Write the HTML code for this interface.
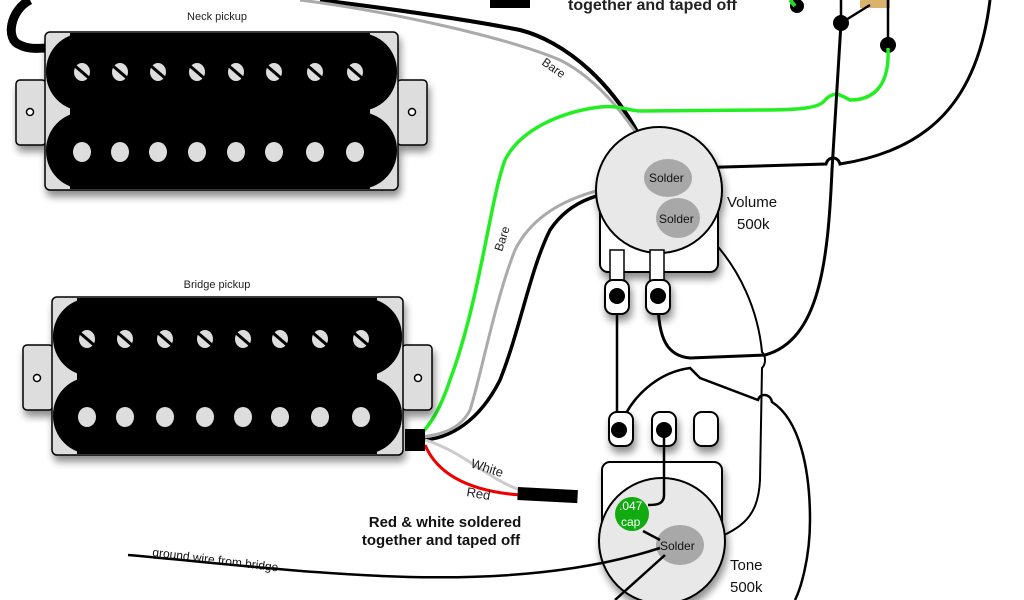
<!DOCTYPE html>
<html><head><meta charset="utf-8"><style>
html,body{margin:0;padding:0;background:#fff;}
svg{display:block;}
text{font-family:"Liberation Sans",sans-serif;}
</style></head><body>
<svg width="1024" height="600" viewBox="0 0 1024 600" xmlns="http://www.w3.org/2000/svg">
<defs>
<filter id="sh" x="-10%" y="-10%" width="130%" height="140%"><feGaussianBlur in="SourceAlpha" stdDeviation="4"/><feOffset dx="2" dy="6"/><feComponentTransfer><feFuncA type="linear" slope="0.45"/></feComponentTransfer><feMerge><feMergeNode/><feMergeNode in="SourceGraphic"/></feMerge></filter>
<g id="screw"><ellipse cx="0" cy="0" rx="8" ry="9" fill="#ddd"/><line x1="-7" y1="-6" x2="7" y2="6" stroke="#000" stroke-width="3"/></g>
<g id="pole"><ellipse cx="0" cy="0" rx="9" ry="10" fill="#ddd"/></g>
</defs>

<!-- top wires -->
<path d="M30,0 C10,10 5,40 20,45 C30,50 40,48 48,48" fill="none" stroke="#000" stroke-width="9"/>
<path d="M320,0 C400,10 470,20 520,30 C560,40 620,80 655,170" fill="none" stroke="#000" stroke-width="4"/>
<path d="M300,0 C380,10 500,35 560,60 C600,80 630,120 660,170" fill="none" stroke="#aaa" stroke-width="3"/>
<rect x="490" y="0" width="40" height="8" fill="#000"/>
<text x="568" y="10" font-size="16" font-weight="bold" fill="#222">together and taped off</text>
<circle cx="797" cy="6" r="7" fill="#000"/>
<path d="M790,0 L795,6" stroke="#2d2" stroke-width="4"/>
<rect x="860" y="0" width="30" height="8" fill="#d9b36e"/>
<path d="M841,0 L841,23 L870,5 M888,0 L888,45" fill="none" stroke="#000" stroke-width="2.5"/>
<circle cx="841" cy="23" r="8" fill="#000"/><circle cx="888" cy="45" r="8" fill="#000"/>

<!-- green wires -->
<path d="M888,48 C890,90 870,100 850,100 C840,95 835,90 825,100 C820,108 800,110 760,110 L640,111 C630,111 620,105 600,107 C560,112 520,130 505,160 C490,200 480,300 450,380 C440,410 430,425 420,435" fill="none" stroke="#2e2" stroke-width="3.5"/>
<path d="M665,180 C600,185 540,200 515,250 C495,300 480,380 470,410 C460,430 440,435 420,437" fill="none" stroke="#aaa" stroke-width="3"/>
<path d="M655,188 C600,190 570,200 550,230 C530,270 520,330 500,380 C480,420 450,440 420,440" fill="none" stroke="#000" stroke-width="3.5"/>
<text transform="translate(541,64) rotate(35)" font-size="12" fill="#222">Bare</text>
<text transform="translate(502,252) rotate(-72)" font-size="12" fill="#222">Bare</text>

<!-- right large wires -->
<path d="M690,168 L826,164 C828,156 838,156 840,164 C930,150 978,100 990,0" fill="none" stroke="#000" stroke-width="3"/>
<path d="M841,23 L832,170 C828,260 820,340 765,355 L690,358 C668,356 658,340 658,300" fill="none" stroke="#000" stroke-width="3"/>
<!-- thin wires in middle -->
<path d="M712,240 C740,270 758,310 762,352 C766,356 766,364 762,368 L760,480 C758,520 740,530 700,545" fill="none" stroke="#000" stroke-width="2"/>
<path d="M619,430 C630,395 660,372 690,368 L700,378 L758,400 C760,393 770,393 772,402 C800,420 810,470 810,520 C810,560 800,590 795,600" fill="none" stroke="#000" stroke-width="2.5"/>
<path d="M617,300 L617,420" stroke="#000" stroke-width="2.5"/>

<!-- volume pot -->
<g filter="url(#sh)">
<rect x="600" y="190" width="118" height="82" rx="8" fill="#fff" stroke="#000" stroke-width="2"/>
<circle cx="659" cy="190" r="63" fill="#e8e8e8" stroke="#000" stroke-width="2"/>
<rect x="610" y="250" width="14" height="40" fill="#fff" stroke="#000" stroke-width="1.5"/>
<rect x="650" y="250" width="14" height="40" fill="#fff" stroke="#000" stroke-width="1.5"/>
<rect x="605" y="280" width="24" height="34" rx="8" fill="#fff" stroke="#000" stroke-width="2"/>
<rect x="646" y="280" width="24" height="34" rx="8" fill="#fff" stroke="#000" stroke-width="2"/>
</g>
<circle cx="617" cy="296" r="8" fill="#000"/><circle cx="658" cy="296" r="8" fill="#000"/>
<ellipse cx="668" cy="178" rx="24" ry="19" fill="#a8a8a8"/>
<ellipse cx="678" cy="218" rx="22" ry="20" fill="#a8a8a8"/>
<text x="649" y="182" font-size="12" fill="#111">Solder</text>
<text x="659" y="223" font-size="12" fill="#111">Solder</text>
<text x="727" y="207" font-size="15" fill="#111">Volume</text>
<text x="737" y="229" font-size="15" fill="#111">500k</text>

<!-- tone pot -->
<g filter="url(#sh)">
<rect x="602" y="462" width="120" height="80" rx="8" fill="#fff" stroke="#000" stroke-width="2"/>
<circle cx="662" cy="541" r="63" fill="#e8e8e8" stroke="#000" stroke-width="2"/>
<rect x="609" y="412" width="24" height="34" rx="8" fill="#fff" stroke="#000" stroke-width="2"/>
<rect x="652" y="412" width="24" height="34" rx="8" fill="#fff" stroke="#000" stroke-width="2"/>
<rect x="694" y="412" width="24" height="34" rx="8" fill="#fff" stroke="#000" stroke-width="2"/>
</g>
<circle cx="619" cy="430" r="8" fill="#000"/><circle cx="664" cy="430" r="8" fill="#000"/>
<path d="M664,435 L664,495 C664,505 655,505 648,505" fill="none" stroke="#000" stroke-width="2.5"/>
<ellipse cx="680" cy="545" rx="24" ry="20" fill="#a8a8a8"/>
<circle cx="632" cy="514" r="17" fill="#1a1"/>
<text x="619" y="510" font-size="12" fill="#fff">.047</text>
<text x="621" y="526" font-size="12" fill="#fff">cap</text>
<text x="660" y="550" font-size="12" fill="#111">Solder</text>
<text x="730" y="570" font-size="15" fill="#111">Tone</text>
<text x="730" y="592" font-size="15" fill="#111">500k</text>
<path d="M643,531 L660,540" stroke="#000" stroke-width="2.5"/>
<path d="M128,555 C300,570 500,600 660,548" fill="none" stroke="#000" stroke-width="2.5"/>
<path d="M665,555 L615,600" stroke="#000" stroke-width="2.5"/>
<text transform="translate(152,556) rotate(7)" font-size="12" fill="#111">ground wire from bridge</text>

<!-- white/red -->
<path d="M425,440 C460,450 490,480 520,490" fill="none" stroke="#ccc" stroke-width="3"/>
<path d="M425,445 C440,480 480,492 520,495" fill="none" stroke="#e00" stroke-width="3"/>
<rect x="518" y="487" width="60" height="13" fill="#000" transform="rotate(3 518 487)"/>
<text transform="translate(470,467) rotate(18)" font-size="13" fill="#222">White</text>
<text transform="translate(466,496) rotate(10)" font-size="13" fill="#222">Red</text>
<text x="445" y="527" font-size="15" font-weight="bold" fill="#111" text-anchor="middle">Red &amp; white soldered</text>
<text x="441" y="545" font-size="15" font-weight="bold" fill="#111" text-anchor="middle">together and taped off</text>

<!-- neck pickup -->
<text x="217" y="20" font-size="11" fill="#222" text-anchor="middle">Neck pickup</text>
<g filter="url(#sh)">
<rect x="16" y="80" width="30" height="65" rx="4" fill="#ddd" stroke="#000" stroke-width="1.5"/>
<rect x="397" y="80" width="30" height="65" rx="4" fill="#ddd" stroke="#000" stroke-width="1.5"/>
<rect x="45" y="32" width="353" height="158" rx="5" fill="#ddd" stroke="#000" stroke-width="1.5"/>
<rect x="46" y="33" width="351" height="78" rx="38" fill="#000"/>
<rect x="46" y="112" width="351" height="77" rx="38" fill="#000"/>
<rect x="70" y="33" width="300" height="156" fill="#000"/>
</g>
<circle cx="30" cy="112" r="3.5" fill="#fff" stroke="#000" stroke-width="1.5"/>
<circle cx="412" cy="112" r="3.5" fill="#fff" stroke="#000" stroke-width="1.5"/>
<use href="#screw" x="82" y="72"/><use href="#screw" x="120" y="72"/><use href="#screw" x="158" y="72"/><use href="#screw" x="197" y="72"/><use href="#screw" x="236" y="72"/><use href="#screw" x="274" y="72"/><use href="#screw" x="315" y="72"/><use href="#screw" x="355" y="72"/>
<use href="#pole" x="82" y="152"/><use href="#pole" x="120" y="152"/><use href="#pole" x="158" y="152"/><use href="#pole" x="197" y="152"/><use href="#pole" x="236" y="152"/><use href="#pole" x="274" y="152"/><use href="#pole" x="315" y="152"/><use href="#pole" x="355" y="152"/>

<!-- bridge pickup -->
<text x="217" y="288" font-size="11" fill="#222" text-anchor="middle">Bridge pickup</text>
<g filter="url(#sh)">
<rect x="23" y="345" width="30" height="65" rx="4" fill="#ddd" stroke="#000" stroke-width="1.5"/>
<rect x="402" y="345" width="30" height="65" rx="4" fill="#ddd" stroke="#000" stroke-width="1.5"/>
<rect x="52" y="297" width="351" height="158" rx="5" fill="#ddd" stroke="#000" stroke-width="1.5"/>
<rect x="53" y="298" width="349" height="78" rx="38" fill="#000"/>
<rect x="53" y="377" width="349" height="77" rx="38" fill="#000"/>
<rect x="77" y="298" width="300" height="156" fill="#000"/>
</g>
<circle cx="37" cy="378" r="3.5" fill="#fff" stroke="#000" stroke-width="1.5"/>
<circle cx="418" cy="378" r="3.5" fill="#fff" stroke="#000" stroke-width="1.5"/>
<use href="#screw" x="87" y="339"/><use href="#screw" x="125" y="339"/><use href="#screw" x="165" y="339"/><use href="#screw" x="205" y="339"/><use href="#screw" x="243" y="339"/><use href="#screw" x="280" y="339"/><use href="#screw" x="320" y="339"/><use href="#screw" x="361" y="339"/>
<use href="#pole" x="87" y="417"/><use href="#pole" x="125" y="417"/><use href="#pole" x="165" y="417"/><use href="#pole" x="205" y="417"/><use href="#pole" x="243" y="417"/><use href="#pole" x="280" y="417"/><use href="#pole" x="320" y="417"/><use href="#pole" x="361" y="417"/>
<rect x="405" y="429" width="20" height="22" fill="#000"/>
</svg>
</body></html>
